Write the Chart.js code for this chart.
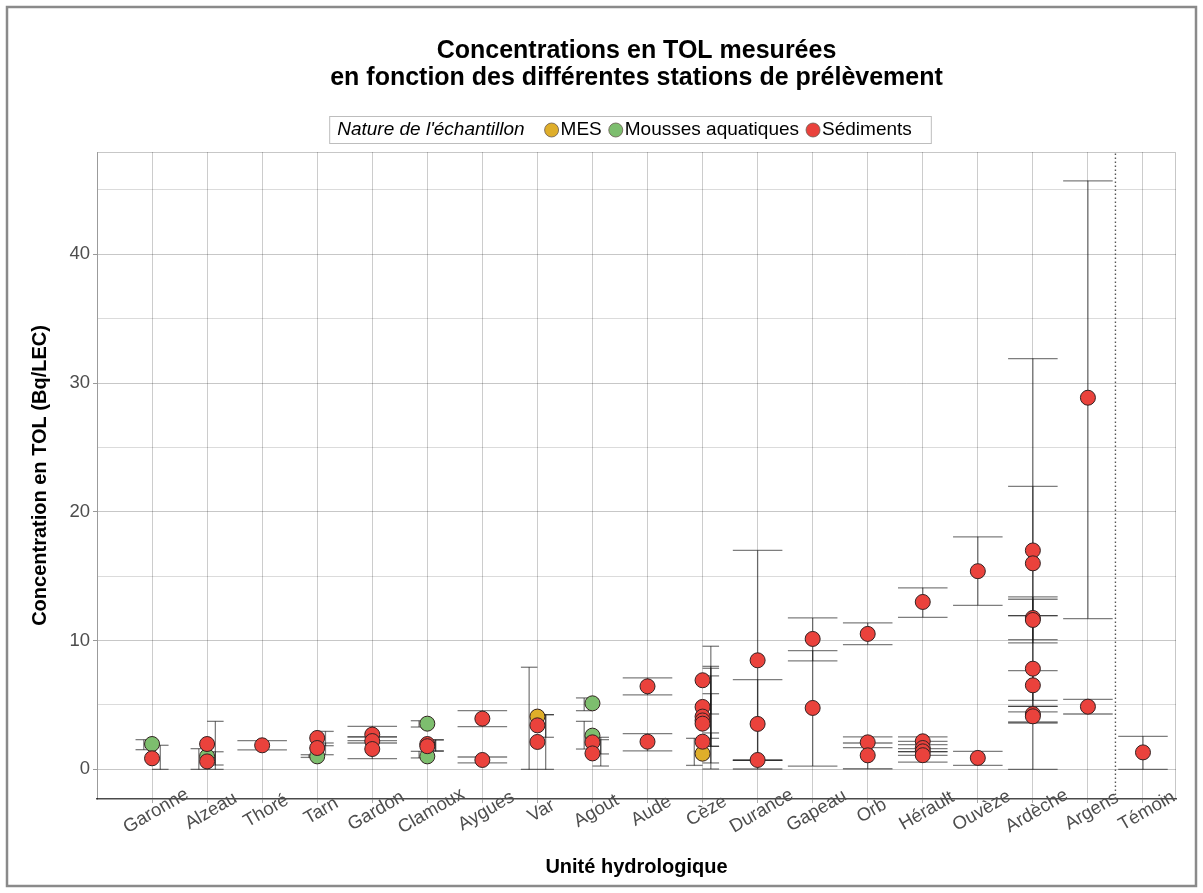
<!DOCTYPE html>
<html><head><meta charset="utf-8">
<script src="https://cdn.jsdelivr.net/npm/chart.js@4.4.1/dist/chart.umd.min.js"></script>
<style>html,body{margin:0;padding:0;background:#fff}canvas{display:block}</style>
</head><body>
<canvas id="c" width="1203" height="893"></canvas>
<script>
// ---------- DATA ----------
const categories = ["Garonne","Alzeau","Thoré","Tarn","Gardon","Clamoux","Aygues","Var","Agout","Aude","Cèze","Durance","Gapeau","Orb","Hérault","Ouvèze","Ardèche","Argens","Témoin"];
const yTicks = [0, 10, 20, 30, 40];

// MES
const mesCat  = [7, 10];
const mesVal  = [4.1, 1.22];
const mesLow  = [0, 0.31];
const mesHigh = [7.93, 2.41];

// Mousses aquatiques
const mouCat  = [0, 1, 3, 5, 5, 8, 8];
const mouVal  = [1.97, 1.01, 1.01, 3.55, 1.01, 5.13, 2.62];
const mouLow  = [1.53, 0, 0.93, 3.29, 0.89, 4.56, 1.58];
const mouHigh = [2.31, 1.61, 1.14, 3.78, 1.4, 5.55, 3.73];

// Sédiments
const sedCat  = [0, 1,1, 2, 3,3, 4,4,4, 5,5, 6,6, 7,7, 8,8, 9,9, 10,10,10,10,10,10, 11,11,11, 12,12, 13,13,13, 14,14,14,14,14, 15,15, 16,16,16,16,16,16,16,16, 17,17, 18];
const sedVal  = [0.86, 1.97,0.62, 1.87, 2.44,1.66, 2.7,2.2,1.58, 1.97,1.8, 3.94,0.73, 3.42,2.13, 2.1,1.24, 6.45,2.15, 6.92,4.85,4.1,3.8,3.55,2.15, 8.47,3.53,0.73, 10.13,4.77, 10.52,2.1,1.09, 13.0,2.18,1.66,1.4,1.1, 15.39,0.89, 17.0,16.0,11.76,11.6,7.82,6.53,4.3,4.12, 28.86,4.87, 1.32];
const sedLow  = [0, 0.34,0, 1.51, 1.84,1.14, 2.23,2.05,0.83, 1.4,1.45, 3.32,0.5, 2.49,0, 1.2,0.26, 5.78,1.43, 4.3,2.41,0.5,1.79,0.03,1.79, 0.7,0.7,0.03, 8.42,0.26, 9.69,1.69,0.05, 11.81,1.92,1.38,1.09,0.57, 12.74,0.31, 11.94,0,10.08,9.82,4.9,5.36,3.68,3.6, 11.71,4.3, 0];
const sedHigh = [1.87, 3.73,1.37, 2.23, 2.95,2.05, 3.34,2.52,2.52, 2.31,2.28, 4.56,0.96, 4.25,4.25, 2.49,2.31, 7.1,2.77, 9.56,7.26,8.0,5.88,7.85,2.83, 17.0,6.97,0.73, 11.76,9.22, 11.37,2.52,2.05, 14.1,2.52,2.18,1.61,1.38, 18.06,1.4, 21.97,31.9,13.39,13.21,11.94,7.67,4.46,4.9, 45.7,5.44, 2.57];

const seriesNames = ["MES", "Mousses aquatiques", "Sédiments"];
const separatorAt = 17.5; // between Argens and Témoin

// ---------- STYLE ----------
const colors = ["#DFAE2A", "#7DBE6E", "#EA423C"];
const FONT = "'Liberation Sans', Arial, Helvetica, sans-serif";

// ---------- BUILD ----------
const series = [
  {cat: mesCat, val: mesVal, lo: mesLow, hi: mesHigh},
  {cat: mouCat, val: mouVal, lo: mouLow, hi: mouHigh},
  {cat: sedCat, val: sedVal, lo: sedLow, hi: sedHigh}
];
const present = categories.map((_, c) => series.map((s, g) => s.cat.includes(c) ? g : -1).filter(g => g >= 0));

const barData = [];
series.forEach((s, g) => {
  s.cat.forEach((c, i) => {
    const grp = present[c];
    const n = grp.length;
    let off = 0, hw = 0.45;
    if (n > 1) {
      const k = grp.indexOf(g);
      const w = 0.6 / n;
      off = -0.3 + (k + 0.5) * w;
      hw = w / 2;
    }
    const x = c + off, lo = s.lo[i], hi = s.hi[i];
    barData.push({x, y: lo}, {x, y: hi}, {x, y: null});
    barData.push({x: x - hw, y: lo}, {x: x + hw, y: lo}, {x, y: null});
    barData.push({x: x - hw, y: hi}, {x: x + hw, y: hi}, {x, y: null});
  });
});

const pointSets = series.map((s, g) => ({
  type: 'scatter',
  label: seriesNames[g],
  data: s.cat.map((c, i) => ({x: c, y: s.val[i]})),
  pointRadius: 7.5,
  pointHoverRadius: 7.5,
  pointBackgroundColor: colors[g],
  pointBorderColor: '#332222',
  pointBorderWidth: 1,
  order: 3 - g
}));

const datasets = [
  {
    type: 'line', label: 'err', data: barData, showLine: true, spanGaps: false,
    borderColor: 'rgba(20,20,20,0.55)', borderWidth: 1.3, pointRadius: 0, fill: false,
    segment: { borderColor: () => undefined }, order: 10
  },
  {
    type: 'line', label: 'sep', data: [{x: separatorAt, y: -2.3}, {x: separatorAt, y: 47.94}],
    showLine: true, borderColor: '#555', borderWidth: 1.4, borderDash: [1.5, 2.5], pointRadius: 0, order: 9
  },
  ...pointSets
];

const decor = {
  id: 'decor',
  beforeDraw(chart) {
    const ctx = chart.ctx;
    ctx.save();
    ctx.fillStyle = '#fff';
    ctx.fillRect(0, 0, chart.width, chart.height);
    ctx.restore();
  },
  afterDraw(chart) {
    const ctx = chart.ctx, a = chart.chartArea, xs = chart.scales.x;
    ctx.save();
    ctx.strokeStyle = 'rgba(0,0,0,0.22)';
    ctx.lineWidth = 1;
    ctx.beginPath();
    ctx.moveTo(a.left + 0.5, a.bottom); ctx.lineTo(a.left + 0.5, a.top + 0.5);
    ctx.lineTo(a.right - 0.5, a.top + 0.5); ctx.lineTo(a.right - 0.5, a.bottom);
    ctx.stroke();

    ctx.strokeStyle = '#8a8a8a';
    ctx.lineWidth = 2.5;
    ctx.strokeRect(7, 7, chart.width - 14, chart.height - 14);

    const cx = (a.left + a.right) / 2;
    ctx.fillStyle = '#000';
    ctx.textAlign = 'center';
    ctx.textBaseline = 'alphabetic';
    ctx.font = 'bold 25px ' + FONT;
    ctx.fillText('Concentrations en TOL mesurées', cx, 58);
    ctx.fillText('en fonction des différentes stations de prélèvement', cx, 85);

    ctx.fillStyle = '#4D4D4D';
    ctx.font = '18.5px ' + FONT;
    ctx.textBaseline = 'middle';
    categories.forEach((name, i) => {
      const px = xs.getPixelForValue(i);
      ctx.save();
      ctx.translate(px + 4, a.bottom + 12);
      ctx.rotate(-Math.PI / 6);
      ctx.fillText(name, 0, 0);
      ctx.restore();
    });

    ctx.fillStyle = '#000';
    ctx.font = 'bold 20px ' + FONT;
    ctx.textBaseline = 'middle';
    ctx.fillText('Unité hydrologique', cx, 867);
    ctx.save();
    ctx.translate(40, (a.top + a.bottom) / 2);
    ctx.rotate(-Math.PI / 2);
    ctx.fillText('Concentration en TOL (Bq/LEC)', 0, 0);
    ctx.restore();

    const LF = 19;
    const lt = "Nature de l'échantillon";
    ctx.font = LF + 'px ' + FONT;
    const widths = seriesNames.map(s => ctx.measureText(s).width);
    ctx.font = 'italic ' + LF + 'px ' + FONT;
    const w0 = ctx.measureText(lt).width;
    const r = 7;
    let total = 8 + w0 + 20;
    widths.forEach(w => total += r * 2 + 3 + w + 6);
    total += 12;
    const bx = 630 - total / 2, by = 116, bh = 27, my = by + bh / 2 + 0.5;
    ctx.strokeStyle = '#bdbdbd';
    ctx.lineWidth = 1;
    ctx.strokeRect(bx + 0.5, by + 0.5, total, bh);
    ctx.fillStyle = '#000';
    ctx.textAlign = 'left';
    ctx.fillText(lt, bx + 8, my);
    let xx = bx + 8 + w0 + 20;
    ctx.font = LF + 'px ' + FONT;
    seriesNames.forEach((s, g) => {
      ctx.beginPath();
      ctx.arc(xx + r, my, r, 0, Math.PI * 2);
      ctx.fillStyle = colors[g];
      ctx.fill();
      ctx.strokeStyle = '#6a5a50';
      ctx.lineWidth = 0.8;
      ctx.stroke();
      ctx.fillStyle = '#000';
      ctx.fillText(s, xx + 2 * r + 2, my);
      xx += r * 2 + 3 + widths[g] + 6;
    });
    ctx.restore();
  }
};

new Chart(document.getElementById('c'), {
  type: 'scatter',
  data: { datasets },
  plugins: [decor],
  options: {
    responsive: false,
    devicePixelRatio: 1,
    animation: false,
    events: [],
    layout: { padding: { top: 152, right: 27, left: 0, bottom: 0 } },
    plugins: { legend: { display: false }, tooltip: { enabled: false }, title: { display: false } },
    scales: {
      x: {
        type: 'linear', min: -1, max: 18.6,
        afterFit(s) { s.height = 94; },
        ticks: { stepSize: 1, autoSkip: false, includeBounds: false, callback: () => '', maxRotation: 0 },
        grid: {
          color: c => c.tick && c.tick.value >= 0 ? 'rgba(0,0,0,0.2)' : 'rgba(0,0,0,0)',
          tickColor: c => c.tick && c.tick.value >= 0 ? 'rgba(0,0,0,0.35)' : 'rgba(0,0,0,0)',
          tickLength: 4, lineWidth: 1
        },
        border: { color: '#4a4a4a', width: 1.5 }
      },
      y: {
        type: 'linear', min: -2.3, max: 47.94,
        afterFit(s) { s.width = 97; },
        ticks: {
          stepSize: 5, includeBounds: false, padding: 3,
          callback: v => yTicks.includes(v) ? String(v) : '',
          color: '#4D4D4D', font: { family: FONT, size: 18.5 }
        },
        grid: {
          color: c => c.tick && yTicks.includes(c.tick.value) ? 'rgba(0,0,0,0.22)' : 'rgba(0,0,0,0.14)',
          tickColor: c => c.tick && yTicks.includes(c.tick.value) ? 'rgba(0,0,0,0.4)' : 'rgba(0,0,0,0)',
          tickLength: 4, lineWidth: 1
        },
        border: { color: 'rgba(0,0,0,0.22)', width: 1 }
      }
    }
  }
});
</script>
</body></html>
